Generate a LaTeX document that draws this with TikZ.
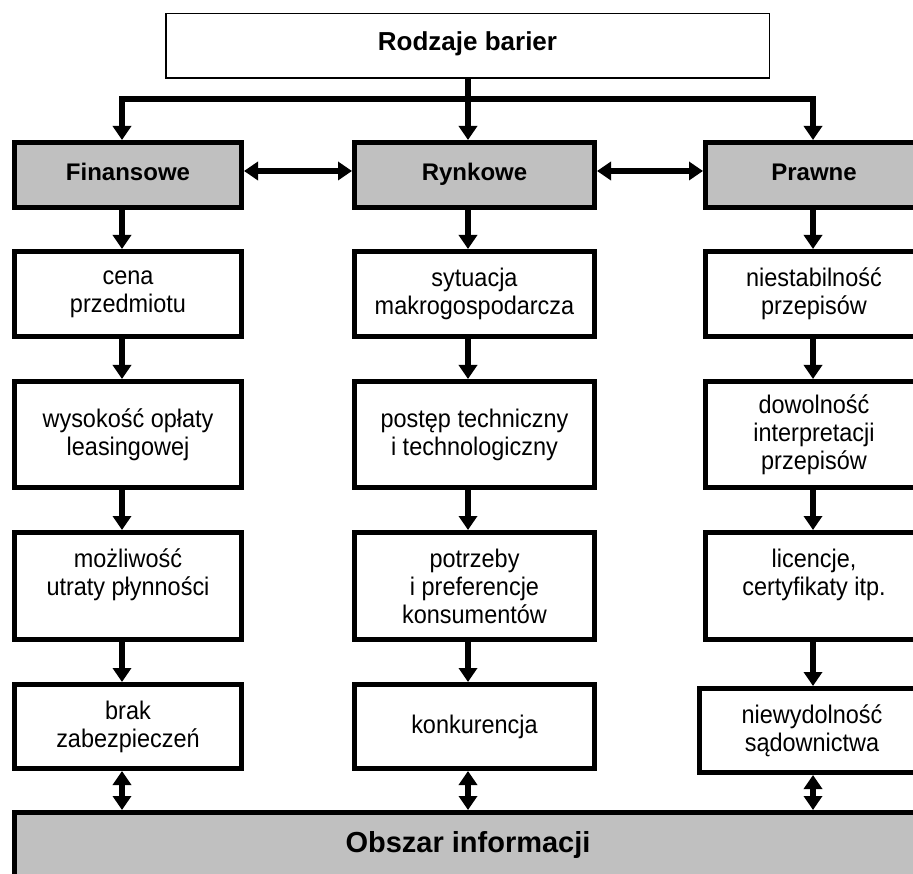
\documentclass[tikz,border=0pt]{standalone}
\usepackage{fontspec}
\setmainfont{Liberation Sans}
\newfontfamily\tallfont[FakeStretch=0.92]{Liberation Sans}
\usetikzlibrary{arrows.meta}
\definecolor{boxgrey}{RGB}{192,192,192}
\begin{document}
\begin{tikzpicture}[x=1pt,y=-1pt,
  every node/.style={inner sep=0pt, align=center},
  tbox/.style={draw, line width=5pt, fill=white, font=\tallfont\fontsize{25.5}{28}\selectfont},
  gbox/.style={draw, line width=5pt, fill=boxgrey, text height=17pt, text depth=5pt,
               font=\fontsize{24}{28}\selectfont\bfseries},
  tip/.tip={Triangle[width=18pt,length=14pt]},
  conn/.style={line width=6pt, -tip},
  dconn/.style={line width=6pt, tip-tip, line join=miter},
]
\useasboundingbox (0,0) rectangle (913,874);
\clip (0,0) rectangle (913,874);

\coordinate (c1) at (122,0);
\coordinate (c2) at (468,0);
\coordinate (c3) at (813,0);
\coordinate (hy) at (0,99);
\coordinate (ha) at (0,171);

% top
\node[tbox, line width=1.5pt, minimum width=603.5pt, minimum height=64.5pt,
      text height=18pt, text depth=8pt,
      font=\fontsize{26}{28}\selectfont\bfseries] (top) at (467.5,46) {Rodzaje barier};

% headers
\node[gbox, minimum width=227pt, minimum height=65pt] (fin) at (128,175) {Finansowe};
\node[gbox, minimum width=240pt, minimum height=65pt] (ryn) at (474.5,175) {Rynkowe};
\node[gbox, minimum width=217pt, minimum height=65pt] (pra) at (814,175) {Prawne};

% row 1
\node[tbox, minimum width=227pt, minimum height=85pt] (f1) at (128,294) {cena\\przedmiotu};
\node[tbox, minimum width=240pt, minimum height=85pt] (r1) at (474.5,294) {sytuacja\\makrogospodarcza};
\node[tbox, minimum width=217pt, minimum height=85pt] (p1) at (814,294) {niestabilność\\przepisów};

% row 2
\node[tbox, minimum width=227pt, minimum height=106pt] (f2) at (128,434.5) {wysokość opłaty\\leasingowej};
\node[tbox, minimum width=240pt, minimum height=106pt] (r2) at (474.5,434.5) {postęp techniczny\\i technologiczny};
\node[tbox, minimum width=217pt, minimum height=106pt] (p2) at (814,434.5) {dowolność\\interpretacji\\przepisów};

% row 3
\node[tbox, minimum width=227pt, minimum height=107pt] (f3) at (128,586) {możliwość\\utraty płynności\\\mbox{}};
\node[tbox, minimum width=240pt, minimum height=107pt] (r3) at (474.5,586) {potrzeby\\i preferencje\\konsumentów};
\node[tbox, minimum width=217pt, minimum height=107pt] (p3) at (814,586) {licencje,\\certyfikaty itp.\\\mbox{}};

% row 4
\node[tbox, minimum width=227pt, minimum height=84pt] (f4) at (128,726.5) {brak\\zabezpieczeń};
\node[tbox, minimum width=240pt, minimum height=84pt] (r4) at (474.5,726.5) {konkurencja};
\node[tbox, minimum width=225pt, minimum height=84pt] (p4) at (812,730.5) {niewydolność\\sądownictwa};

% bottom
\node[gbox, minimum width=907pt, minimum height=65pt, text height=21pt, text depth=7pt,
      font=\fontsize{29}{32}\selectfont\bfseries] (obs) at (468,845) {Obszar informacji};

% connectors from top
\draw[conn] (top.south -| c2) -- (ryn.north -| c2);
\draw[dconn] (fin.north -| c1) -- (c1 |- hy) -- (c3 |- hy) -- (pra.north -| c3);

% horizontal double arrows
\draw[dconn] (fin.east |- ha) -- (ryn.west |- ha);
\draw[dconn] (ryn.east |- ha) -- (pra.west |- ha);

% column arrows
\draw[conn] (fin.south -| c1) -- (f1.north -| c1);
\draw[conn] (f1.south -| c1) -- (f2.north -| c1);
\draw[conn] (f2.south -| c1) -- (f3.north -| c1);
\draw[conn] (f3.south -| c1) -- (f4.north -| c1);

\draw[conn] (ryn.south -| c2) -- (r1.north -| c2);
\draw[conn] (r1.south -| c2) -- (r2.north -| c2);
\draw[conn] (r2.south -| c2) -- (r3.north -| c2);
\draw[conn] (r3.south -| c2) -- (r4.north -| c2);

\draw[conn] (pra.south -| c3) -- (p1.north -| c3);
\draw[conn] (p1.south -| c3) -- (p2.north -| c3);
\draw[conn] (p2.south -| c3) -- (p3.north -| c3);
\draw[conn] (p3.south -| c3) -- (p4.north -| c3);

% to bottom
\draw[dconn] (f4.south -| c1) -- (obs.north -| c1);
\draw[dconn] (r4.south -| c2) -- (obs.north -| c2);
\draw[dconn] (p4.south -| c3) -- (obs.north -| c3);
\end{tikzpicture}
\end{document}
